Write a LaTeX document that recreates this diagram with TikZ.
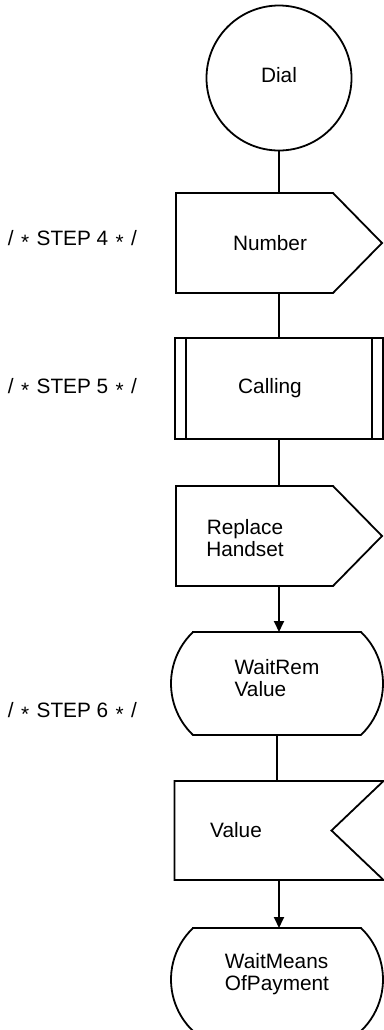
\documentclass[tikz,border=0pt]{standalone}
\usepackage{fontspec}
\setmainfont{Liberation Sans}
\usetikzlibrary{arrows.meta}

\newcommand{\stepstar}{\hspace{0.8pt}\raisebox{-0.22em}{*}\hspace{0.8pt}}

\begin{document}
\begin{tikzpicture}[x=0.5pt,y=0.5pt,inner sep=0pt,outer sep=0pt,line width=0.9pt,
font=\fontsize{10.4}{11}\selectfont,
outsig/.style={rectangle,minimum width=103pt,minimum height=50pt,
  append after command={(\tikzlastnode.north west) -- ([xshift=-24.5pt]\tikzlastnode.north east) -- (\tikzlastnode.east)
    -- ([xshift=-24.5pt]\tikzlastnode.south east) -- (\tikzlastnode.south west) -- cycle}},
insig/.style={rectangle,minimum width=104.5pt,minimum height=49.5pt,
  append after command={(\tikzlastnode.north west) -- (\tikzlastnode.north east) -- ([xshift=-26pt]\tikzlastnode.east)
    -- (\tikzlastnode.south east) -- (\tikzlastnode.south west) -- cycle}},
procbox/.style={draw,rectangle,minimum width=104pt,minimum height=50.5pt,
  path picture={\draw ([xshift=5.5pt]path picture bounding box.north west) -- ([xshift=5.5pt]path picture bounding box.south west);
                \draw ([xshift=-5.5pt]path picture bounding box.north east) -- ([xshift=-5.5pt]path picture bounding box.south east);}},
waitbox/.style={rectangle,minimum width=106pt,minimum height=51.5pt,align=left,
  append after command={([xshift=11pt]\tikzlastnode.north west) -- ([xshift=-11pt]\tikzlastnode.north east)
    arc[start angle=46.3,end angle=-46.3,radius=35.6pt] -- ([xshift=11pt]\tikzlastnode.south west)
    arc[start angle=226.3,end angle=133.7,radius=35.6pt] -- cycle}},
steptext/.style={anchor=west},
sigarrow/.style={-{Triangle[length=5.5pt,width=5pt]}}]
\useasboundingbox (0,0) rectangle (384,-1030);
\draw (279,-78) node[draw,circle,minimum size=72.5pt] (Dial) {\raisebox{3pt}{Dial}};
\draw (279,-243) node[outsig,label={[xshift=-4.5pt]center:Number}] (Number) {};
\draw (279,-388.5) node[procbox,label={[xshift=-4.5pt]center:Calling}] (Calling) {};
\draw (279,-536) node[outsig,label={[xshift=-17pt,yshift=-2.5pt]center:{\begin{tabular}{@{}c@{}}Replace\\Handset\end{tabular}}}] (Replace) {};
\draw (277,-683.5) node[waitbox] (WaitRem) {WaitRem\\Value\rule[-6pt]{0pt}{6pt}};
\draw (279,-830.5) node[insig,label={[xshift=-21.5pt]center:Value}] (Value) {};
\draw (277,-979.5) node[waitbox] (WaitMeans) {WaitMeans\\OfPayment\rule[-8pt]{0pt}{8pt}};
% step comments
\draw (8,-240) node[steptext] (step4) {/ \stepstar\ STEP 4 \stepstar\ /};
\draw (8,-388) node[steptext] (step5) {/ \stepstar\ STEP 5 \stepstar\ /};
\draw (8,-712) node[steptext] (step6) {/ \stepstar\ STEP 6 \stepstar\ /};
% connectors
\draw (Dial.south) -- (Dial.south |- Number.north);
\draw (Number.south) -- (Number.south |- Calling.north);
\draw (Calling.south) -- (Calling.south |- Replace.north);
\draw[sigarrow] (Replace.south) -- (Replace.south |- WaitRem.north);
\draw (WaitRem.south) -- (WaitRem.south |- Value.north);
\draw[sigarrow] (Value.south) -- (Value.south |- WaitMeans.north);
\end{tikzpicture}
\end{document}
